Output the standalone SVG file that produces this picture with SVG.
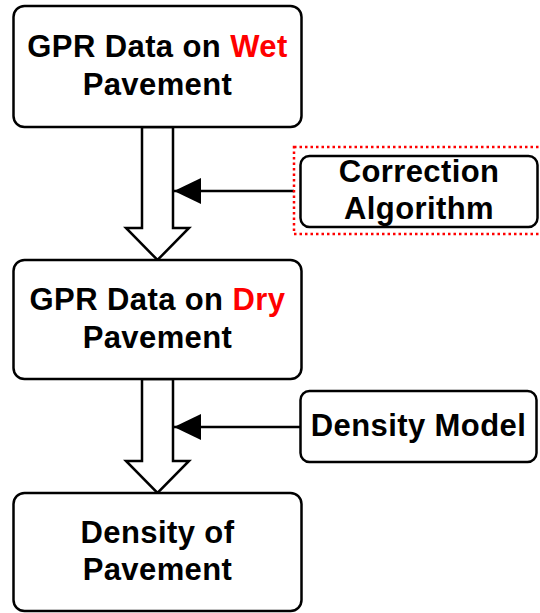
<svg xmlns="http://www.w3.org/2000/svg" width="540" height="613" viewBox="0 0 540 613">
<style>
.box{fill:#fff;stroke:#000;stroke-width:2.5}
.t{font-family:"Liberation Sans",Arial,sans-serif;font-weight:bold;font-size:31px;letter-spacing:0.4px;fill:#000;text-anchor:middle}
.red{fill:#ff0000}
.blk{fill:#fff;stroke:#000;stroke-width:2.5;stroke-linejoin:miter}
.ln{stroke:#000;stroke-width:2.5;fill:none}
</style>
<defs>
<marker id="ah" markerUnits="userSpaceOnUse" markerWidth="28" markerHeight="26" refX="27" refY="13" orient="auto">
<path d="M0,0 L27,13 L0,26 Z" fill="#000"/>
</marker>
</defs>
<g id="connectors">
<polygon class="blk" points="142,127 173,127 173,228 189,228 157.5,260 126,228 142,228"/>
<polygon class="blk" points="142,379 173,379 173,461 189,461 157.5,493 126,461 142,461"/>
<line class="ln" x1="294" y1="191" x2="174" y2="191" marker-end="url(#ah)"/>
<line class="ln" x1="300" y1="427" x2="174" y2="427" marker-end="url(#ah)"/>
</g>
<g id="wet">
<rect class="box" x="13.5" y="6" width="288" height="121" rx="11"/>
<text class="t" x="157.5" y="57">GPR Data on <tspan class="red">Wet</tspan></text>
<text class="t" x="157.5" y="95">Pavement</text>
</g>
<g id="dry">
<rect class="box" x="13.5" y="260" width="288" height="119" rx="11"/>
<text class="t" x="157.5" y="310">GPR Data on <tspan class="red">Dry</tspan></text>
<text class="t" x="157.5" y="348">Pavement</text>
</g>
<g id="density">
<rect class="box" x="13.5" y="493" width="288" height="118" rx="11"/>
<text class="t" x="157.5" y="543">Density of</text>
<text class="t" x="157.5" y="580">Pavement</text>
</g>
<g id="correction">
<rect x="294" y="147" width="252" height="87" fill="none" stroke="#ff0000" stroke-width="2.5" stroke-dasharray="2.5 3"/>
<rect class="box" x="300.5" y="156" width="237" height="71" rx="9"/>
<text class="t" x="419" y="182">Correction</text>
<text class="t" x="419" y="219">Algorithm</text>
</g>
<g id="model">
<rect class="box" x="300.5" y="391" width="236" height="71" rx="9"/>
<text class="t" x="418.5" y="436">Density Model</text>
</g>
</svg>
